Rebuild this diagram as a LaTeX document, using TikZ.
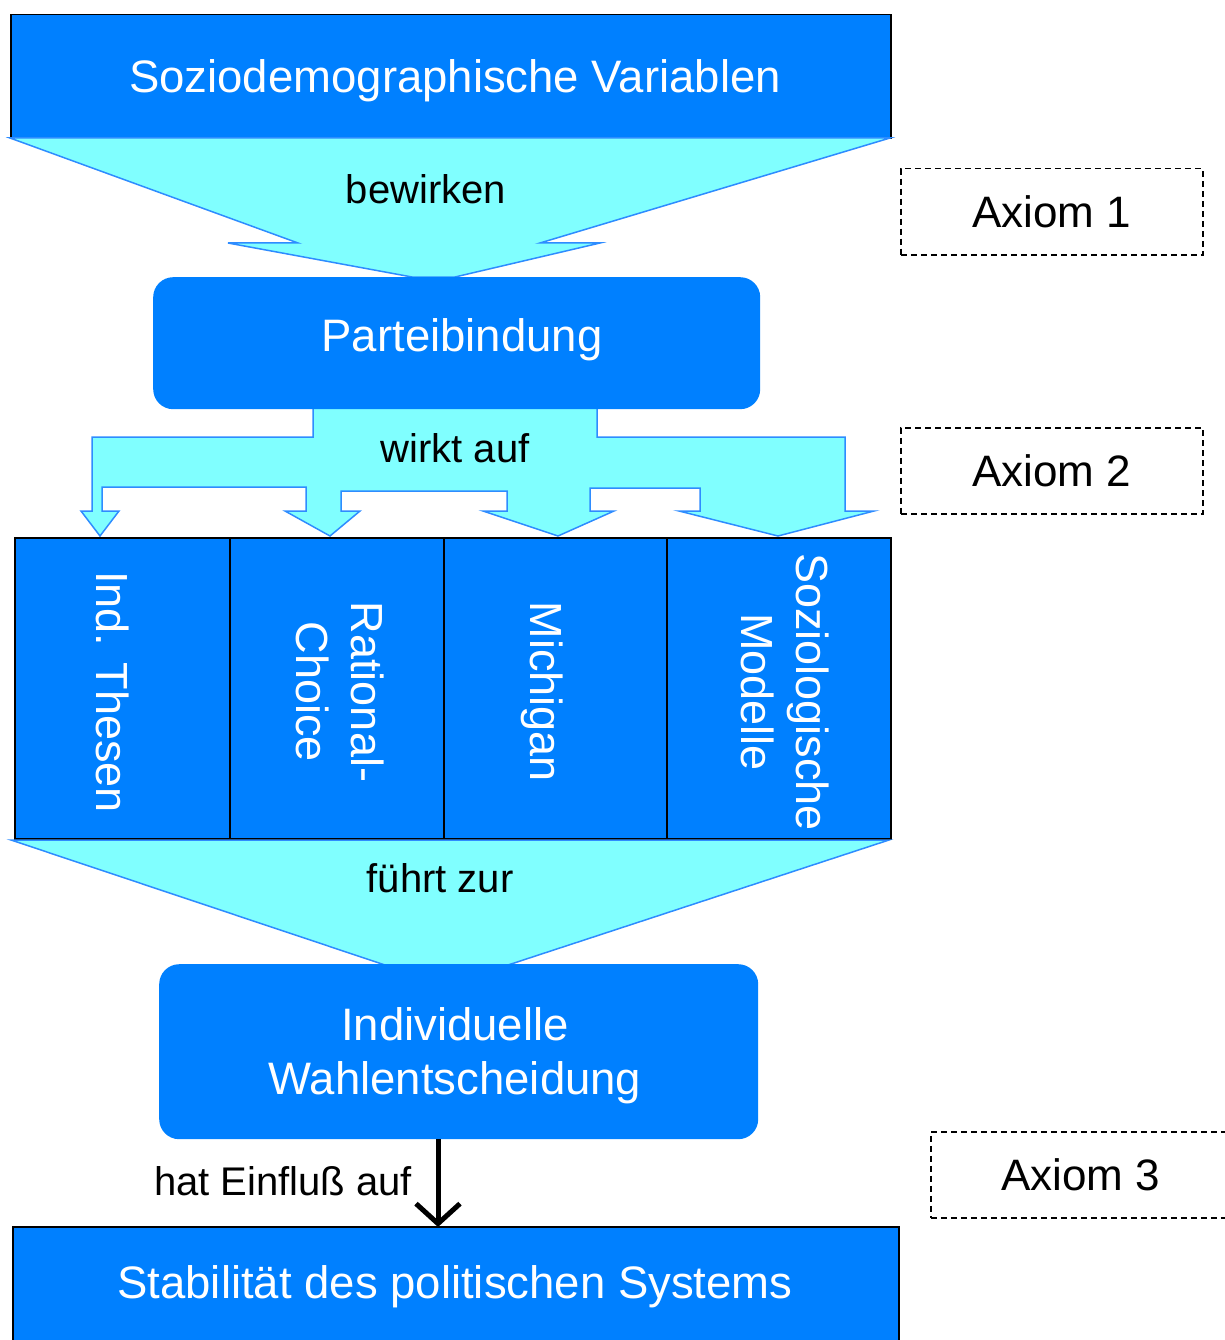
\documentclass[tikz,border=0pt]{standalone}
\usepackage{fontspec}
\setmainfont{Liberation Sans}
\usetikzlibrary{arrows.meta}
\definecolor{boxblue}{HTML}{0080FF}
\definecolor{arrcyan}{HTML}{80FFFF}
\definecolor{edgeblue}{HTML}{2E8CFF}
\begin{document}
\begin{tikzpicture}[x=1pt,y=-1pt,
  sqbox/.style={draw=black, line width=1.5pt, fill=boxblue, inner sep=0pt, anchor=north west},
  rbox/.style={fill=boxblue, rounded corners=20pt, inner sep=0pt, anchor=north west},
  flow/.style={fill=arrcyan, draw=edgeblue, line width=1.5pt, line join=miter},
  boxtxt/.style={text=white, font=\fontsize{45.5}{54}\selectfont, inner sep=0pt},
  coltxt/.style={text=white, font=\fontsize{45}{55}\selectfont, inner sep=0pt, rotate=-90, align=center},
  lbl/.style={text=black, font=\fontsize{40}{48}\selectfont, inner sep=0pt, anchor=base},
  axbox/.style={draw=black, line width=1.5pt, dash pattern=on 6pt off 4pt, inner sep=0pt,
                font=\fontsize{44}{52}\selectfont, anchor=north west},
  bigarrow/.style={draw=black, line width=5pt, -{Straight Barb[length=20pt,width=44pt]}}
]
\useasboundingbox (0,0) rectangle (1224,1340);

% top box
\node[sqbox, minimum width=880pt, minimum height=124pt] (soz) at (10,14) {};
\node[boxtxt, anchor=base] (sozt) at (455,93) {Soziodemographische Variablen};

% arrow 1 (bewirken)
\path[flow] (10,138) -- (890,138) -- (540,243) -- (600,243) -- (455,277) -- (412,277)
  -- (228,243) -- (298,243) -- cycle;
\node[lbl] (l1) at (426,204) {bewirken};

% arrow 2 (wirkt auf)
\path[flow] (313,408) -- (313,437) -- (92,437) -- (92,511) -- (81,511) -- (100,536)
  -- (119,511) -- (102,511) -- (102,487) -- (306,487) -- (306,511) -- (285,511)
  -- (330,536) -- (360,511) -- (341,511) -- (341,491) -- (507,491) -- (507,511)
  -- (483,511) -- (558,536) -- (614,511) -- (590,511) -- (590,488) -- (700,488)
  -- (700,511) -- (679,511) -- (778,536) -- (874,511) -- (845,511) -- (845,437)
  -- (597,437) -- (597,408) -- cycle;
\node[lbl] (l2) at (455,462) {wirkt auf};

% Parteibindung
\node[rbox, minimum width=607pt, minimum height=132pt] (party) at (153,277) {};
\node[boxtxt, anchor=base] (partyt) at (462,351) {Parteibindung};

% models box
\node[sqbox, minimum width=876pt, minimum height=301pt] (models) at (14,537) {};
\draw[black, line width=1.5pt] (230,537) -- (230,838) (444,537) -- (444,838) (667,537) -- (667,838);
\node[coltxt] (m1) at (113,692) {Ind. Thesen};
\node[coltxt] (m2) at (340,692) {Rational-\\Choice};
\node[coltxt] (m3) at (542,692) {Michigan};
\node[coltxt] (m4) at (785,692) {Soziologische\\Modelle};

% arrow 3 (führt zur)
\path[flow] (11,840) -- (889,840) -- (508,965) -- (385,965) -- cycle;
\node[lbl] (l3) at (440,892) {führt zur};

% Individuelle Wahlentscheidung
\node[rbox, minimum width=599pt, minimum height=175pt] (indiv) at (159,964) {};
\node[boxtxt, align=center] (indivt) at (455,1056) {Individuelle\\Wahlentscheidung};

% Stabilität
\node[sqbox, minimum width=886pt, minimum height=130pt] (stab) at (12,1226) {};
\node[boxtxt, anchor=base] (stabt) at (455,1298) {Stabilität des politischen Systems};

% black arrow
\coordinate (arrS) at (438,1139);
\coordinate (arrE) at (438,1227);
\draw[bigarrow] (arrS) -- (arrE);
\node[lbl] (l4) at (283,1195) {hat Einfluß auf};

% axioms
\node[axbox, minimum width=302pt, minimum height=86pt] (ax1) at (900,168) {Axiom 1};
\node[axbox, minimum width=302pt, minimum height=86pt] (ax2) at (900,427) {Axiom 2};
\node[axbox, minimum width=300pt, minimum height=86pt] (ax3) at (930,1131) {Axiom 3};
\end{tikzpicture}
\end{document}
